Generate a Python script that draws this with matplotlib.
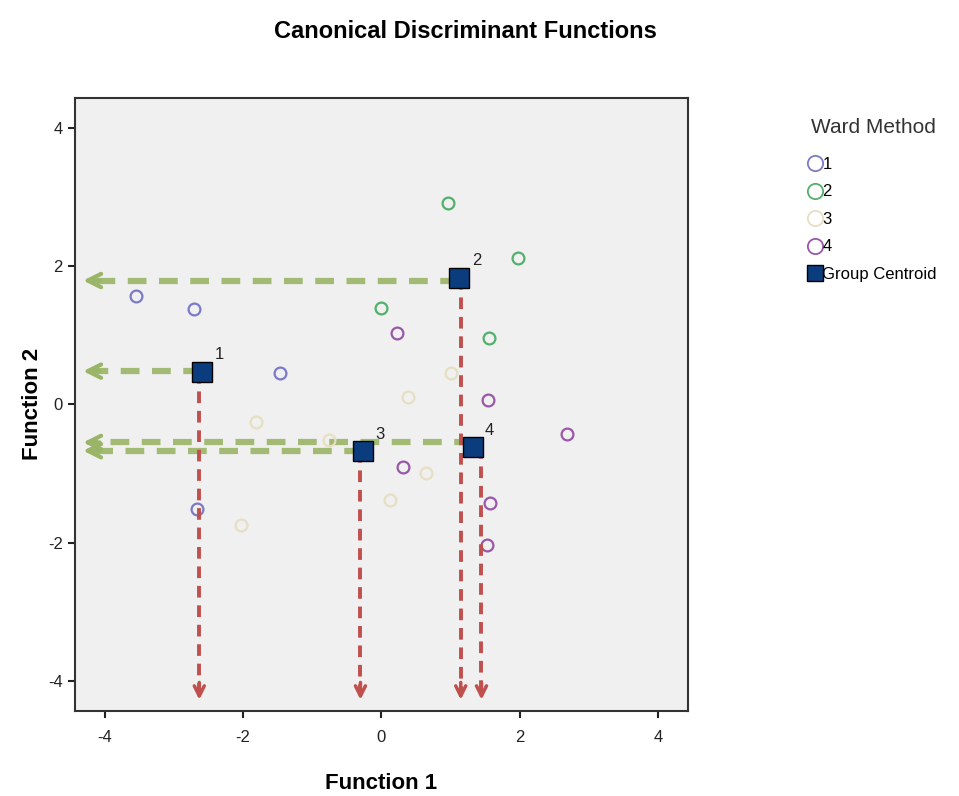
import matplotlib
matplotlib.use("Agg")
import matplotlib.pyplot as plt
from matplotlib.lines import Line2D

plt.rcParams['font.family'] = ['Liberation Sans', 'DejaVu Sans']
plt.rcParams['axes.unicode_minus'] = False

# discriminant scores per Ward cluster
g1_x = [-3.54, -2.70, -1.46, -2.67]
g1_y = [1.57, 1.38, 0.45, -1.51]
g2_x = [0.97, 1.98, -0.01, 1.56]
g2_y = [2.91, 2.12, 1.39, 0.96]
g3_x = [-1.81, -0.75, 0.39, 1.01, 0.65, 0.12, -2.02]
g3_y = [-0.25, -0.51, 0.10, 0.46, -0.99, -1.38, -1.75]
g4_x = [0.23, 1.55, 2.68, 0.32, 1.58, 1.53]
g4_y = [1.03, 0.06, -0.43, -0.90, -1.43, -2.03]

groups = ['1', '2', '3', '4']
cent_x = [-2.59, 1.13, -0.26, 1.32]
cent_y = [0.47, 1.83, -0.68, -0.62]

# hand drawn projection arrows
harrow_y = [0.48, 1.79, -0.67, -0.55]
varrow_x = [-2.63, 1.15, -0.30, 1.45]

colors = ['#7a7ac8', '#52b06a', '#e6dfc2', '#9a56a8']
lim = 4.43

fig = plt.figure(figsize=(9.59, 7.96), dpi=100)
ax = fig.add_axes([0.078, 0.107, 0.639, 0.770])
ax.set_facecolor('#f0f0f0')

for xs, ys, c in zip([g1_x, g2_x, g3_x, g4_x], [g1_y, g2_y, g3_y, g4_y], colors):
    ax.plot(xs, ys, 'o', ms=8.5, mfc='none', mec=c, mew=1.6, zorder=3)

green = '#9ab567'
red = '#c0504d'
for cx, hy in zip(cent_x, harrow_y):
    ax.plot([cx, -lim + 0.25], [hy, hy], '--', color=green, lw=4.5,
            dashes=(3, 2), zorder=2, alpha=0.9)
    ax.annotate('', xy=(-lim + 0.08, hy), xytext=(-lim + 0.4, hy),
                arrowprops=dict(arrowstyle='->', color=green, lw=3,
                                mutation_scale=24), zorder=2)
for vx, cy in zip(varrow_x, cent_y):
    ax.plot([vx, vx], [cy, -lim + 0.3], '--', color=red, lw=2.8,
            dashes=(3, 2), zorder=4)
    ax.annotate('', xy=(vx, -lim + 0.12), xytext=(vx, -lim + 0.45),
                arrowprops=dict(arrowstyle='->', color=red, lw=2.5,
                                mutation_scale=18), zorder=4)

ax.plot(cent_x, cent_y, 's', ms=14, mfc='#0b3d7e', mec='black', mew=1, zorder=5)
for cx, cy, g in zip(cent_x, cent_y, groups):
    ax.annotate(g, (cx, cy), xytext=(9, 9), textcoords='offset points',
                fontsize=12, color='#222222', zorder=6)

ax.set_xlim(-lim, lim)
ax.set_ylim(-lim, lim)
ax.set_xticks([-4, -2, 0, 2, 4])
ax.set_yticks([-4, -2, 0, 2, 4])
ax.tick_params(labelsize=12, colors='#222222', length=5, width=1.5)
ax.tick_params(axis='x', pad=9)
for s in ax.spines.values():
    s.set_linewidth(1.5)
    s.set_color('#333333')

ax.set_xlabel('Function 1', fontsize=16, fontweight='bold', labelpad=20)
ax.set_ylabel('Function 2', fontsize=16, fontweight='bold', labelpad=4)
fig.suptitle('Canonical Discriminant Functions', x=0.485, y=0.975,
             fontsize=17, fontweight='bold')

handles = [Line2D([], [], ls='none', marker='o', ms=11, mfc='none', mec=c, mew=1.3)
           for c in colors]
handles.append(Line2D([], [], ls='none', marker='s', ms=12, mfc='#0b3d7e', mec='black'))
leg = fig.legend(handles, groups + ['Group Centroid'], title='Ward Method',
                 loc='upper left', bbox_to_anchor=(0.828, 0.87), frameon=False,
                 fontsize=12, title_fontsize=15, handlelength=0.7,
                 handletextpad=0.1, labelspacing=0.75)
leg.get_title().set_color('#333333')
leg._legend_box.sep = 14

fig.savefig('out.png', dpi=100)
